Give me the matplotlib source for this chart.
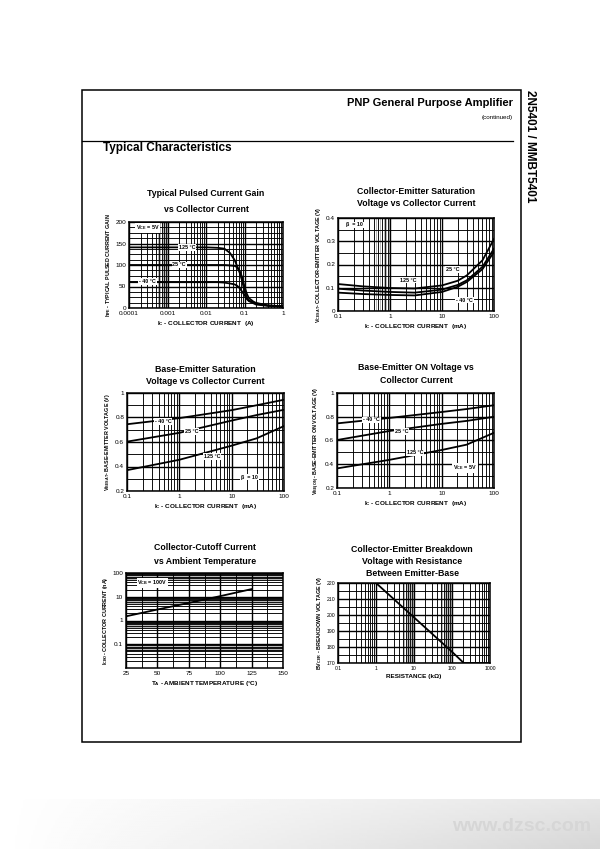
import numpy as np
import matplotlib
matplotlib.use("Agg")
import matplotlib.pyplot as plt
from matplotlib.ticker import LogLocator, MultipleLocator, NullFormatter
from matplotlib.patches import Rectangle

plt.rcParams['font.family'] = ['Liberation Sans', 'DejaVu Sans']
plt.rcParams['mathtext.fontset'] = 'custom'
plt.rcParams['mathtext.rm'] = 'Liberation Sans:bold'
plt.rcParams['mathtext.it'] = 'Liberation Sans:bold'
plt.rcParams['mathtext.bf'] = 'Liberation Sans:bold'

W, H = 600, 849

# ---- data ----
# 1. pulsed current gain vs collector current (A)
hfe_ic = [0.0001, 0.001, 0.01, 0.02, 0.03, 0.042, 0.055, 0.064, 0.075, 0.085, 0.1, 0.115, 0.13, 0.2, 0.4, 1.0]
hfe_125 = [141, 141, 141, 140, 138, 128, 112, 98, 82, 66, 40, 23, 17, 12, 6, 4]
hfe_25 = [100, 100, 100, 100, 100, 99, 98, 95, 86, 74, 50, 33, 23, 10, 6, 4]
hfe_m40 = [60, 60, 60, 60, 59, 57, 55, 52, 46, 39, 30, 21, 16, 8, 5, 3]

# 2. Vce(sat) vs Ic (mA)
vcesat_ic = [0.1, 0.3, 1, 3, 10, 20, 30, 60, 100]
vcesat_a = [0.116, 0.106, 0.099, 0.097, 0.11, 0.13, 0.153, 0.218, 0.31]
vcesat_b = [0.096, 0.088, 0.082, 0.079, 0.092, 0.112, 0.132, 0.19, 0.268]
vcesat_c = [0.079, 0.073, 0.069, 0.067, 0.082, 0.104, 0.125, 0.18, 0.254]

# 3. Vbe(sat) vs Ic (mA)
vbesat_ic = [0.1, 1, 10, 30, 100]
vbesat_m40 = [0.745, 0.795, 0.86, 0.9, 0.945]
vbesat_25 = [0.603, 0.675, 0.775, 0.82, 0.863]
vbesat_125 = [0.37, 0.455, 0.57, 0.63, 0.73]

# 4. Vbe(on) vs Ic (mA)
vbeon_ic = [0.1, 1, 10, 30, 100]
vbeon_m40 = [0.744, 0.79, 0.84, 0.865, 0.897]
vbeon_25 = [0.604, 0.68, 0.74, 0.765, 0.80]
vbeon_125 = [0.365, 0.437, 0.52, 0.565, 0.665]

# 5. Icbo (nA) vs ambient temperature
icbo_ta = [25, 50, 75, 100, 125]
icbo_na = [1.5, 2.9, 5.5, 10.6, 21]

# 6. BVcer vs resistance (kOhm)
bv_r = [0.1, 1, 10, 100, 204, 1000]
bv_v = [220, 220, 198.5, 177, 170, 170]

fig = plt.figure(figsize=(W / 100, H / 100), dpi=100)


def box(x0, y0, x1, y1):
    return [x0 / W, 1 - y1 / H, (x1 - x0) / W, (y1 - y0) / H]


def ftext(x, y, s, **kw):
    fig.text(x / W, 1 - y / H, s, **kw)


def fine_log_lines(ax, lo, hi, axis='x'):
    # extra faint lines between 5 and 10 of a decade, as on the scanned grid
    draw = ax.axvline if axis == 'x' else ax.axhline
    for e in range(int(np.floor(np.log10(lo))), int(np.ceil(np.log10(hi)))):
        for s in (5.5, 6.5, 7.5, 8.5, 9.5):
            v = s * 10.0 ** e
            if lo < v < hi:
                draw(v, color='#808080', lw=0.4, zorder=0.5)


def style(ax, xlog=False, ylog=False):
    ax.set_facecolor('white')
    for sp in ax.spines.values():
        sp.set_linewidth(1.1)
    if xlog:
        ax.set_xscale('log')
        ax.xaxis.set_minor_locator(LogLocator(base=10, subs=range(2, 10), numticks=20))
        ax.xaxis.set_minor_formatter(NullFormatter())
    if ylog:
        ax.set_yscale('log')
        ax.yaxis.set_minor_locator(LogLocator(base=10, subs=range(2, 10), numticks=20))
        ax.yaxis.set_minor_formatter(NullFormatter())
    ax.grid(True, which='major', color='black', lw=1.0)
    ax.grid(True, which='minor', color='black', lw=0.65)
    ax.tick_params(which='both', length=0, labelsize=4.6, pad=2)
    ax.set_axisbelow(True)


def label(ax, x, y, s):
    ax.text(x, y, s, fontsize=3.9, fontweight='bold', ha='center', va='center',
            bbox=dict(boxstyle='square,pad=0.15', fc='white', ec='none'), zorder=5)


def title(lines, xc, ys, size=6.3):
    for s, y in zip(lines, ys):
        ftext(xc, y, s, fontsize=size, fontweight='bold', ha='center', va='center')


def lbl(ax, xl, yl):
    ax.set_xlabel(xl, fontsize=4.6, fontweight='bold', labelpad=2)
    ax.set_ylabel(yl, fontsize=3.9, fontweight='bold', labelpad=2)


lw = 1.3

# ---- 1 ----
ax1 = fig.add_axes(box(129, 222, 283, 308))
style(ax1, xlog=True)
fine_log_lines(ax1, 0.0001, 0.001)
for y in (hfe_125, hfe_25, hfe_m40):
    ax1.plot(hfe_ic, y, color='black', lw=lw, zorder=4)
ax1.set_xlim(0.0001, 1)
ax1.set_ylim(0, 200)
ax1.yaxis.set_major_locator(MultipleLocator(50))
ax1.yaxis.set_minor_locator(MultipleLocator(12.5))
ax1.set_xticks([0.0001, 0.001, 0.01, 0.1, 1])
ax1.set_xticklabels(['0.0001', '0.001', '0.01', '0.1', '1'])
label(ax1, 0.0003, 186, r'V$_{\mathregular{CE}}$ = 5V')
label(ax1, 0.0032, 141, '125 °C')
label(ax1, 0.002, 100, '25 °C')
label(ax1, 0.0003, 61, '- 40 °C')
lbl(ax1, r'I$_{\mathregular{C}}$ - COLLECTOR CURRENT  (A)', r'h$_{\mathregular{FE}}$ - TYPICAL PULSED CURRENT GAIN')
title(['Typical Pulsed Current Gain', 'vs Collector Current'], 206, [193, 209])

# ---- 2 ----
ax2 = fig.add_axes(box(338, 218, 494, 311))
style(ax2, xlog=True)
fine_log_lines(ax2, 0.1, 1)
for y in (vcesat_a, vcesat_b, vcesat_c):
    ax2.plot(vcesat_ic, y, color='black', lw=lw, zorder=4)
ax2.set_xlim(0.1, 100)
ax2.set_ylim(0, 0.4)
ax2.yaxis.set_minor_locator(MultipleLocator(0.05))
ax2.set_yticks([0, 0.1, 0.2, 0.3, 0.4])
ax2.set_yticklabels(['0', '0.1', '0.2', '0.3', '0.4'])
ax2.set_xticks([0.1, 1, 10, 100])
ax2.set_xticklabels(['0.1', '1', '10', '100'])
label(ax2, 0.21, 0.37, 'β  = 10')
label(ax2, 2.2, 0.133, '125 °C')
label(ax2, 16, 0.178, '25 °C')
label(ax2, 27, 0.047, '- 40 °C')
lbl(ax2, r'I$_{\mathregular{C}}$ - COLLECTOR CURRENT  (mA)', r'V$_{\mathregular{CESAT}}$- COLLECTOR-EMITTER VOLTAGE (V)')
title(['Collector-Emitter Saturation', 'Voltage vs Collector Current'], 416, [192, 204])

# ---- 3 ----
ax3 = fig.add_axes(box(127, 393, 284, 491))
style(ax3, xlog=True)
for y in (vbesat_m40, vbesat_25, vbesat_125):
    ax3.plot(vbesat_ic, y, color='black', lw=lw, zorder=4)
ax3.set_xlim(0.1, 100)
ax3.set_ylim(0.2, 1)
ax3.set_yticks([0.2, 0.4, 0.6, 0.8, 1])
ax3.set_yticklabels(['0.2', '0.4', '0.6', '0.8', '1'])
ax3.yaxis.set_minor_locator(MultipleLocator(0.1))
ax3.set_xticks([0.1, 1, 10, 100])
ax3.set_xticklabels(['0.1', '1', '10', '100'])
label(ax3, 0.49, 0.768, '- 40 °C')
label(ax3, 1.7, 0.684, '25 °C')
label(ax3, 4.2, 0.48, '125 °C')
label(ax3, 22, 0.314, 'β  = 10')
lbl(ax3, r'I$_{\mathregular{C}}$ - COLLECTOR CURRENT  (mA)', r'V$_{\mathregular{BESAT}}$- BASE-EMITTER VOLTAGE (V)')
title(['Base-Emitter Saturation', 'Voltage vs Collector Current'], 205, [369, 381])

# ---- 4 ----
ax4 = fig.add_axes(box(337, 393, 494, 488))
style(ax4, xlog=True)
for y in (vbeon_m40, vbeon_25, vbeon_125):
    ax4.plot(vbeon_ic, y, color='black', lw=lw, zorder=4)
ax4.set_xlim(0.1, 100)
ax4.set_ylim(0.2, 1)
ax4.set_yticks([0.2, 0.4, 0.6, 0.8, 1])
ax4.set_yticklabels(['0.2', '0.4', '0.6', '0.8', '1'])
ax4.yaxis.set_minor_locator(MultipleLocator(0.1))
ax4.set_xticks([0.1, 1, 10, 100])
ax4.set_xticklabels(['0.1', '1', '10', '100'])
label(ax4, 0.46, 0.773, '- 40 °C')
label(ax4, 1.7, 0.674, '25 °C')
label(ax4, 3.1, 0.495, '125 °C')
label(ax4, 28, 0.368, r'V$_{\mathregular{CE}}$ = 5V')
lbl(ax4, r'I$_{\mathregular{C}}$ - COLLECTOR CURRENT  (mA)', r'V$_{\mathregular{BE(ON)}}$- BASE-EMITTER ON VOLTAGE (V)')
title(['Base-Emitter ON Voltage vs', 'Collector Current'], 416, [368, 380])

# ---- 5 ----
ax5 = fig.add_axes(box(126, 573, 283, 668))
style(ax5, ylog=True)
fine_log_lines(ax5, 0.01, 100, axis='y')
ax5.plot(icbo_ta, icbo_na, color='black', lw=lw, zorder=4)
ax5.set_xlim(25, 150)
ax5.set_ylim(0.01, 100)
ax5.set_xticks([25, 50, 75, 100, 125, 150])
ax5.xaxis.set_minor_locator(MultipleLocator(12.5))
ax5.set_yticks([0.1, 1, 10, 100])
ax5.set_yticklabels(['0.1', '1', '10', '100'])
label(ax5, 46, 38, r'V$_{\mathregular{CB}}$ = 100V')
lbl(ax5, r'T$_{\mathregular{A}}$ - AMBIENT TEMPERATURE (°C)', r'I$_{\mathregular{CBO}}$- COLLECTOR CURRENT (nA)')
title(['Collector-Cutoff Current', 'vs Ambient Temperature'], 205, [548, 561])

# ---- 6 ----
ax6 = fig.add_axes(box(338, 583, 490, 663))
style(ax6, xlog=True)
fine_log_lines(ax6, 1, 10)
fine_log_lines(ax6, 10, 100)
ax6.plot(bv_r, bv_v, color='black', lw=lw, zorder=4)
ax6.set_xlim(0.1, 1000)
ax6.set_ylim(170, 220)
ax6.yaxis.set_major_locator(MultipleLocator(10))
ax6.yaxis.set_minor_locator(MultipleLocator(5))
ax6.set_xticks([0.1, 1, 10, 100, 1000])
ax6.set_xticklabels(['0.1', '1', '10', '100', '1000'])
ax6.tick_params(labelsize=3.7)
lbl(ax6, 'RESISTANCE (kΩ)', r'BV$_{\mathregular{CER}}$ - BREAKDOWN VOLTAGE (V)')
title(['Collector-Emitter Breakdown', 'Voltage with Resistance', 'Between Emitter-Base'], 412, [549, 561, 573])

# ---- page frame and header ----
fig.add_artist(Rectangle((82 / W, 1 - 742 / H), (521 - 82) / W, (742 - 90) / H,
                         transform=fig.transFigure, fill=False, ec='black', lw=1.1))
fig.add_artist(plt.Line2D([82 / W, 513 / W], [1 - 141 / H, 1 - 141 / H],
                          transform=fig.transFigure, color='black', lw=0.9))
ftext(513, 103, 'PNP General Purpose Amplifier', fontsize=8, fontweight='bold', ha='right', va='center')
ftext(513, 117, '(continued)', fontsize=4.5, ha='right', va='center')
ftext(103, 148, 'Typical Characteristics', fontsize=8.5, fontweight='bold', ha='left', va='center')
ftext(530, 90, '2N5401 / MMBT5401', fontsize=8.5, fontweight='bold', rotation=-90,
      ha='center', va='top')

# ---- light watermark band at the bottom ----
band = fig.add_axes([0, 0, 1, 50 / H])
grad = np.linspace(0, 1, 300)[None, :] * np.linspace(0.6, 1, 20)[:, None]
band.imshow(1 - 0.16 * grad, cmap='gray', vmin=0, vmax=1, aspect='auto', extent=[0, 1, 0, 1])
band.set_axis_off()
band.text(0.985, 0.45, 'www.dzsc.com', fontsize=14, fontweight='bold', color='#d6d6d6',
          ha='right', va='center', transform=band.transAxes)

fig.savefig('out.png', dpi=100, facecolor='white')
